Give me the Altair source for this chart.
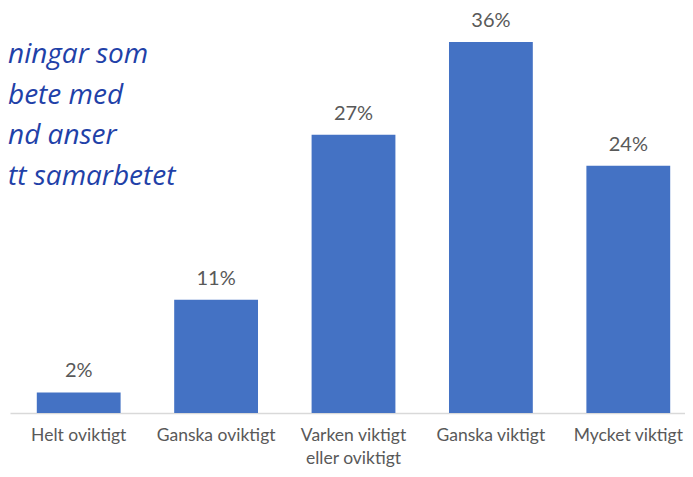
import altair as alt
import pandas as pd

categories = ["Helt oviktigt", "Ganska oviktigt", "Varken viktigt\neller oviktigt", "Ganska viktigt", "Mycket viktigt"]
values = [2, 11, 27, 36, 24]
labels = ["2%", "11%", "27%", "36%", "24%"]
title_lines = ["ningar som", "bete med", "nd anser", "tt samarbetet"]

df = pd.DataFrame({"cat": categories, "val": values, "lab": labels})
tdf = pd.DataFrame({"t": ["\n".join(title_lines)]})

FONT = "Lato"
GRAY = "#595959"

x = alt.X("cat:N", sort=categories,
          scale=alt.Scale(range=[0, 687], paddingInner=0.39, paddingOuter=0.195),
          axis=alt.Axis(title=None, labelAngle=0, labelFont=FONT, labelFontSize=17.5,
                        labelColor=GRAY, labelPadding=13, labelLineHeight=23,
                        labelExpr="split(datum.label, '\\n')",
                        domainColor="#d9d9d9", domainWidth=1.5, ticks=False,
                        labelLimit=300))
y = alt.Y("val:Q", scale=alt.Scale(domain=[0, 39.3], nice=False),
          axis=None)

bars = alt.Chart(df).mark_bar(color="#4472C4").encode(x=x, y=y)
text = alt.Chart(df).mark_text(baseline="bottom", dy=-11, font=FONT, fontSize=20, color=GRAY).encode(
    x=alt.X("cat:N", sort=categories), y="val:Q", text="lab:N")
title = alt.Chart(tdf).mark_text(align="left", baseline="middle", font="Open Sans", fontStyle="italic",
                                 fontSize=28, color="#1f41a8", lineBreak="\n", lineHeight=40.7).encode(
    x=alt.value(-2), y=alt.value(47), text="t:N")

chart = alt.layer(bars, text, title).properties(
    width=675, height=405,
    autosize=alt.AutoSizeParams(type="none"),
    padding={"left": 2, "top": 0, "right": 0, "bottom": 56},
).configure_view(stroke=None)

chart.save("out.html", embed_options={"renderer": "svg", "actions": False})
